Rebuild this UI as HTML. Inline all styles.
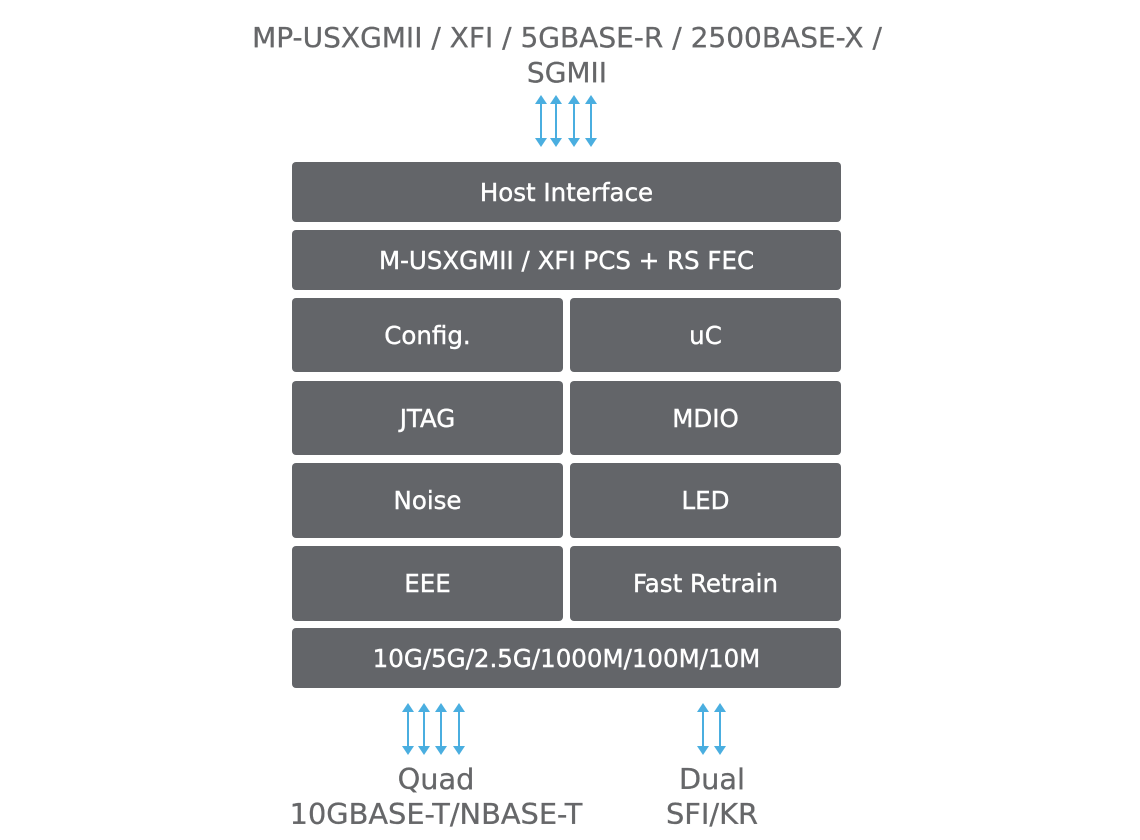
<!DOCTYPE html>
<html><head><style>
body{margin:0;width:1140px;height:840px;background:#fff;position:relative;font-family:"DejaVu Sans","Liberation Sans",sans-serif;overflow:hidden}
.b{position:absolute;background:#636569;border-radius:4px;color:#fff;font-size:24.5px;display:flex;align-items:center;justify-content:center;-webkit-text-stroke:0.4px #fff}
.t{position:absolute;color:#666769;text-align:center;font-size:28px;line-height:35px;-webkit-text-stroke:0.3px #666769}
svg{position:absolute;left:0;top:0}
</style></head><body>
<div class="t" style="left:150px;width:834px;top:20px">MP-USXGMII / XFI / 5GBASE-R / 2500BASE-X /<br>SGMII</div>
<div class="b" style="left:292px;top:162px;width:549px;height:60px">Host Interface</div>
<div class="b" style="left:292px;top:230px;width:549px;height:60px">M-USXGMII / XFI PCS + RS FEC</div>
<div class="b" style="left:292px;top:298px;width:271px;height:74px">Config.</div>
<div class="b" style="left:570px;top:298px;width:271px;height:74px">uC</div>
<div class="b" style="left:292px;top:381px;width:271px;height:74px">JTAG</div>
<div class="b" style="left:570px;top:381px;width:271px;height:74px">MDIO</div>
<div class="b" style="left:292px;top:463px;width:271px;height:75px">Noise</div>
<div class="b" style="left:570px;top:463px;width:271px;height:75px">LED</div>
<div class="b" style="left:292px;top:546px;width:271px;height:75px">EEE</div>
<div class="b" style="left:570px;top:546px;width:271px;height:75px">Fast Retrain</div>
<div class="b" style="left:292px;top:628px;width:549px;height:60px">10G/5G/2.5G/1000M/100M/10M</div>
<div class="t" style="left:236px;width:400px;top:762px;font-size:28.8px">Quad<br>10GBASE-T/NBASE-T</div>
<div class="t" style="left:612px;width:200px;top:762px;font-size:28.8px">Dual<br>SFI/KR</div>
<svg width="1140" height="840">
<defs><g id="a"><line x1="0" y1="6" x2="0" y2="46" stroke="#4aaee0" stroke-width="2"/><polygon points="-6,9 0,0 6,9" fill="#4aaee0"/><polygon points="-6,43 0,52 6,43" fill="#4aaee0"/></g></defs>
<use href="#a" x="541" y="95"/><use href="#a" x="556" y="95"/><use href="#a" x="574" y="95"/><use href="#a" x="591" y="95"/>
<use href="#a" x="408" y="703"/><use href="#a" x="424" y="703"/><use href="#a" x="441" y="703"/><use href="#a" x="459" y="703"/>
<use href="#a" x="703" y="703"/><use href="#a" x="720" y="703"/>
</svg>
</body></html>
